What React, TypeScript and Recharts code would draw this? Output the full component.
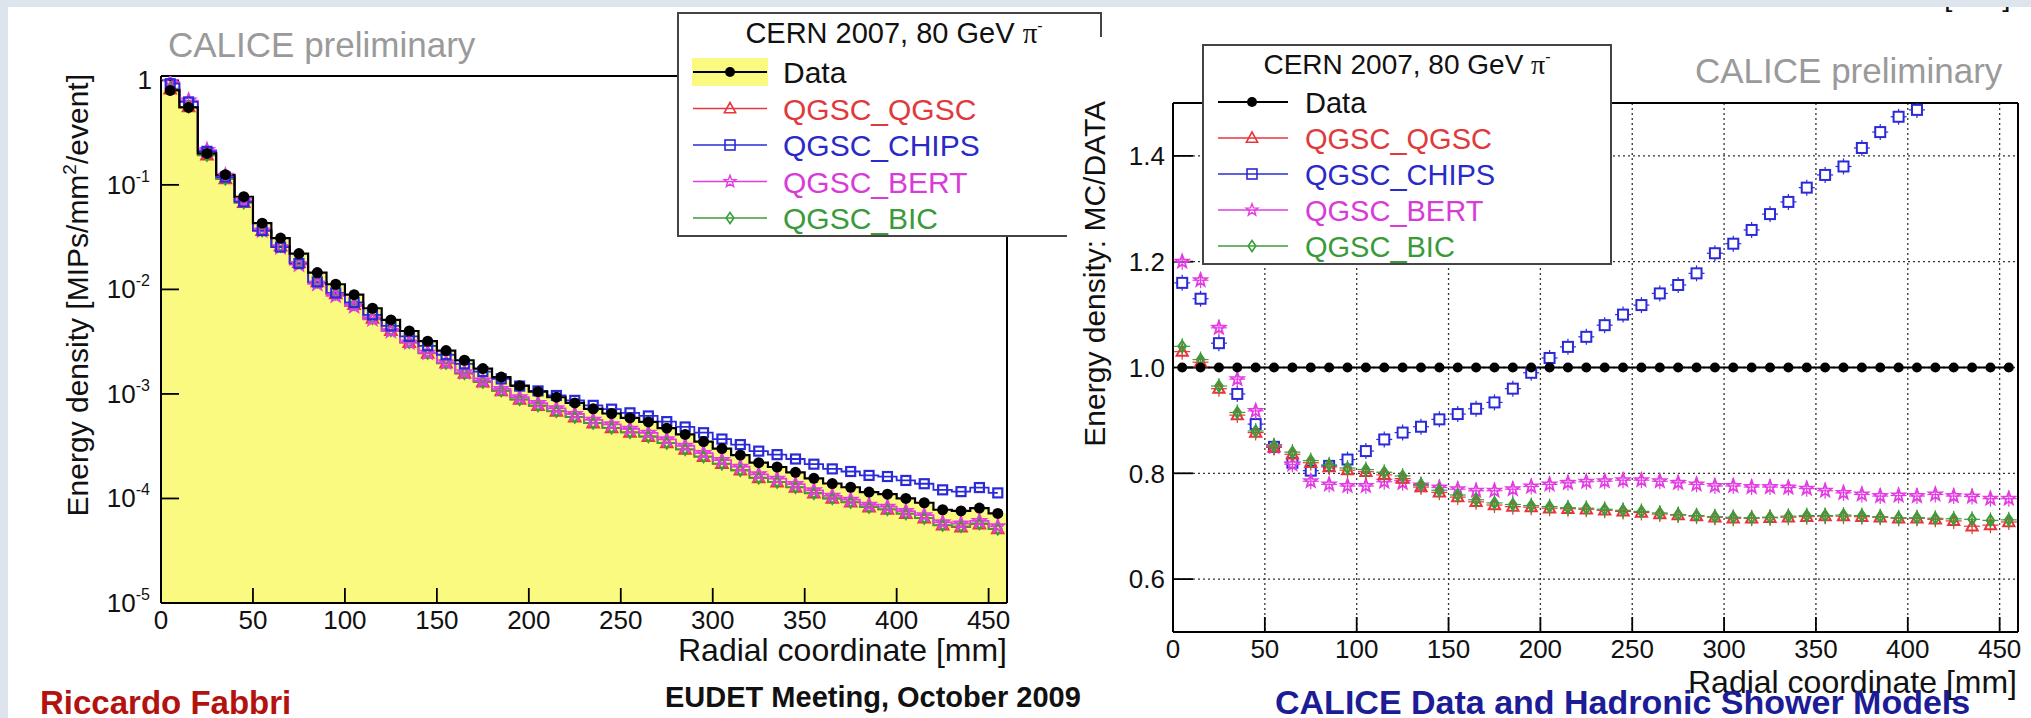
import React from 'react';
import { ComposedChart, Area, Line, Scatter, XAxis, YAxis, CartesianGrid, Legend } from 'recharts';

const FONT = '"Liberation Sans", Arial, Helvetica, sans-serif';

// ---------- data ----------
const binCenters = [5, 15, 25, 35, 45, 55, 65, 75, 85, 95, 105, 115, 125, 135, 145, 155, 165, 175, 185, 195, 205, 215, 225, 235, 245, 255, 265, 275, 285, 295, 305, 315, 325, 335, 345, 355, 365, 375, 385, 395, 405, 415, 425, 435, 445, 455];

// Energy density of data [MIPs/mm^2/event]
const dataDensity = [
  0.80, 0.55, 0.20, 0.125, 0.077, 0.043, 0.031, 0.022, 0.0145, 0.0112,
  0.0089, 0.0066, 0.0051, 0.0040, 0.0032, 0.0026, 0.0021, 0.00175, 0.00145, 0.0012,
  0.00105, 0.00093, 0.00082, 0.00072, 0.00065, 0.00059, 0.00054, 0.00047, 0.00041, 0.00035,
  0.00030, 0.00026, 0.00022, 0.00020, 0.000178, 0.000156, 0.000139, 0.000128, 0.000115, 0.000110,
  0.000100, 0.000091, 0.000078, 0.000076, 0.000081, 0.000072,
];

// MC / DATA ratios
const ratioData = [
  1, 1, 1, 1, 1, 1, 1, 1, 1, 1, 1, 1, 1, 1, 1, 1, 1, 1, 1, 1, 1, 1, 1,
  1, 1, 1, 1, 1, 1, 1, 1, 1, 1, 1, 1, 1, 1, 1, 1, 1, 1, 1, 1, 1, 1, 1,
];
const ratioQGSC = [
  1.03, 1.01, 0.96, 0.91, 0.877, 0.849, 0.836, 0.82, 0.812, 0.806,
  0.803, 0.797, 0.79, 0.774, 0.764, 0.755, 0.746, 0.74, 0.737, 0.736,
  0.734, 0.733, 0.732, 0.73, 0.728, 0.726, 0.723, 0.721, 0.719, 0.717,
  0.715, 0.715, 0.716, 0.717, 0.718, 0.719, 0.719, 0.718, 0.717, 0.715,
  0.715, 0.713, 0.71, 0.70, 0.702, 0.708,
];
const ratioCHIPS = [
  1.16, 1.13, 1.046, 0.95, 0.893, 0.85, 0.82, 0.805, 0.814, 0.826,
  0.842, 0.864, 0.877, 0.888, 0.902, 0.912, 0.922, 0.934, 0.96, 0.99,
  1.018, 1.039, 1.058, 1.08, 1.10, 1.118, 1.14, 1.156, 1.178, 1.216,
  1.234, 1.26, 1.29, 1.313, 1.34, 1.364, 1.38, 1.415, 1.445, 1.474,
  1.487, 1.52, 1.55, 1.53, 1.57, 1.57,
];
const ratioBERT = [
  1.20, 1.165, 1.075, 0.978, 0.918, 0.85, 0.817, 0.785, 0.779, 0.776,
  0.776, 0.784, 0.782, 0.777, 0.773, 0.77, 0.767, 0.767, 0.77, 0.775,
  0.779, 0.782, 0.784, 0.785, 0.787, 0.787, 0.785, 0.782, 0.779, 0.776,
  0.776, 0.774, 0.774, 0.773, 0.771, 0.767, 0.763, 0.76, 0.757, 0.758,
  0.757, 0.76, 0.757, 0.756, 0.752, 0.752,
];
const ratioBIC = [
  1.04, 1.015, 0.965, 0.915, 0.88, 0.852, 0.84, 0.824, 0.816, 0.81,
  0.807, 0.802, 0.795, 0.779, 0.768, 0.759, 0.75, 0.744, 0.741, 0.739,
  0.737, 0.735, 0.734, 0.732, 0.73, 0.728, 0.725, 0.722, 0.72, 0.718,
  0.717, 0.716, 0.717, 0.719, 0.72, 0.72, 0.721, 0.72, 0.718, 0.716,
  0.716, 0.715, 0.714, 0.713, 0.711, 0.712,
];

// ---------- ticks ----------
const xMajorTicks = [0, 50, 100, 150, 200, 250, 300, 350, 400, 450];
const xMinorTicks = [0, 10, 20, 30, 40, 50, 60, 70, 80, 90, 100, 110, 120, 130, 140, 150, 160, 170, 180, 190, 200, 210, 220, 230, 240, 250, 260, 270, 280, 290, 300, 310, 320, 330, 340, 350, 360, 370, 380, 390, 400, 410, 420, 430, 440, 450, 460];
const logMajorTicks = [1e-5, 1e-4, 1e-3, 1e-2, 1e-1, 1];
const logMinorMultipliers = [2, 3, 4, 5, 6, 7, 8, 9];
const logMinorTicks = [1e-5, 1e-4, 1e-3, 1e-2, 1e-1].flatMap((d) => logMinorMultipliers.map((m) => m * d));
const ratioMajorTicks = [0.6, 0.8, 1.0, 1.2, 1.4];
const ratioMidTicks = [0.5, 0.6, 0.7, 0.8, 0.9, 1.0, 1.1, 1.2, 1.3, 1.4, 1.5];
const ratioMinorTicks = [0.5, 0.55, 0.6, 0.65, 0.7, 0.75, 0.8, 0.85, 0.9, 0.95, 1.0, 1.05, 1.1, 1.15, 1.2, 1.25, 1.3, 1.35, 1.4, 1.45, 1.5];

type Kind = 'circle' | 'triangle' | 'square' | 'star' | 'diamond';
const SERIES: { key: string; name: string; color: string; text: string; marker: Kind }[] = [
  { key: 'data', name: 'Data', color: '#000000', text: '#111111', marker: 'circle' },
  { key: 'qgsc', name: 'QGSC_QGSC', color: '#e8343a', text: '#e03a3c', marker: 'triangle' },
  { key: 'chips', name: 'QGSC_CHIPS', color: '#2a2ad8', text: '#2a2ac8', marker: 'square' },
  { key: 'bert', name: 'QGSC_BERT', color: '#e23ce2', text: '#d83cd8', marker: 'star' },
  { key: 'bic', name: 'QGSC_BIC', color: '#3a9e3a', text: '#3a9a3a', marker: 'diamond' },
];

const leftRows = [
  { x: 0, fill: dataDensity[0] },
  ...binCenters.map((x, i) => ({
    x,
    fill: dataDensity[i],
    data: dataDensity[i],
    qgsc: dataDensity[i] * ratioQGSC[i],
    chips: dataDensity[i] * ratioCHIPS[i],
    bert: dataDensity[i] * ratioBERT[i],
    bic: dataDensity[i] * ratioBIC[i],
  })),
  { x: 460, fill: dataDensity[dataDensity.length - 1] },
];

const rightRows = binCenters.map((x, i) => ({
  x,
  data: ratioData[i],
  qgsc: ratioQGSC[i],
  chips: ratioCHIPS[i],
  bert: ratioBERT[i],
  bic: ratioBIC[i],
}));

// ---------- markers ----------
function Marker({ kind, cx, cy, color, size, sw = 2 }: { kind: Kind; cx: number; cy: number; color: string; size: number; sw?: number }) {
  const s = size;
  if (kind === 'circle') return <circle cx={cx} cy={cy} r={s / 2} fill={color} />;
  if (kind === 'triangle') {
    const pts = `${cx},${cy - s * 0.6} ${cx - s * 0.56},${cy + s * 0.42} ${cx + s * 0.56},${cy + s * 0.42}`;
    return <polygon points={pts} fill="none" stroke={color} strokeWidth={sw} />;
  }
  if (kind === 'square')
    return <rect x={cx - s / 2} y={cy - s / 2} width={s} height={s} fill="none" stroke={color} strokeWidth={sw} />;
  if (kind === 'diamond') {
    const pts = `${cx},${cy - s * 0.55} ${cx + s * 0.38},${cy} ${cx},${cy + s * 0.55} ${cx - s * 0.38},${cy}`;
    return <polygon points={pts} fill="none" stroke={color} strokeWidth={sw} />;
  }
  const pts: string[] = [];
  for (let k = 0; k < 10; k++) {
    const r = k % 2 === 0 ? s * 0.62 : s * 0.26;
    const a = -Math.PI / 2 + (k * Math.PI) / 5;
    pts.push(`${cx + r * Math.cos(a)},${cy + r * Math.sin(a)}`);
  }
  return <polygon points={pts.join(' ')} fill="none" stroke={color} strokeWidth={sw * 0.9} />;
}

const dotRenderer = (kind: Kind, color: string, size: number) => (p: any) => {
  const key = `${kind}-${p.index}`;
  if (p.cx == null || p.cy == null || !isFinite(p.cx) || !isFinite(p.cy)) return <g key={key} />;
  return (
    <g key={key}>
      <Marker kind={kind} cx={p.cx} cy={p.cy} color={color} size={size} sw={2.2} />
    </g>
  );
};

const shapeRenderer = (kind: Kind, color: string, size: number) => (p: any) => {
  if (p.cx == null || p.cy == null) return <g />;
  return (
    <g>
      <line x1={p.cx - 8} x2={p.cx + 8} y1={p.cy} y2={p.cy} stroke={color} strokeWidth={1.2} />
      <line x1={p.cx} x2={p.cx} y1={p.cy - 8} y2={p.cy + 8} stroke={color} strokeWidth={1.2} />
      <rect x={p.cx - size / 2} y={p.cy - size / 2} width={size} height={size} fill="#fff" opacity={kind === 'square' ? 1 : 0} />
      <Marker kind={kind} cx={p.cx} cy={p.cy} color={color} size={size} sw={2} />
    </g>
  );
};

// ---------- tick labels ----------
const LogTick = (props: any) => {
  const { x, y, payload } = props;
  const e = Math.round(Math.log10(payload.value));
  if (e === 0)
    return (
      <text x={x} y={y + 9} textAnchor="end" fontSize={26} fontFamily={FONT} fill="#111">
        1
      </text>
    );
  return (
    <text x={x - 2} y={y + 9} textAnchor="end" fontSize={26} fontFamily={FONT} fill="#111">
      10
      <tspan dy={-12} fontSize={16}>
        {e}
      </tspan>
    </text>
  );
};

// ---------- legend ----------
function LegendBox(props: {
  w: number; h: number; titleX: number; titleY: number; row0: number; rowStep: number;
  lineX1: number; lineX2: number; markX: number; textX: number; fontSize: number; band: boolean;
}) {
  const { w, h, titleX, titleY, row0, rowStep, lineX1, lineX2, markX, textX, fontSize, band } = props;
  return (
    <svg width={w} height={h} style={{ display: 'block' }}>
      <rect x={1} y={1} width={w - 2} height={h - 2} fill="#fff" stroke="#444" strokeWidth={2} />
      <text x={titleX} y={titleY} textAnchor="middle" fontSize={fontSize - 1} fontFamily={FONT} fill="#111">
        CERN 2007, 80 GeV{' '}
        <tspan fontFamily='"Liberation Serif", "DejaVu Serif", serif'>π</tspan>
        <tspan dy={-12} fontSize={16}>-</tspan>
      </text>
      {SERIES.map((s, i) => {
        const cy = row0 + i * rowStep;
        return (
          <g key={s.key}>
            {band && i === 0 && <rect x={lineX1 - 1} y={cy - 14} width={lineX2 - lineX1 + 2} height={28} fill="#fafa80" />}
            <line x1={lineX1} x2={lineX2} y1={cy} y2={cy} stroke={s.color} strokeWidth={i === 0 ? 2 : 1.5} />
            <Marker kind={s.marker} cx={markX} cy={cy} color={s.color} size={10} sw={1.6} />
            <text x={textX} y={cy + 11} fontSize={fontSize} fontFamily={FONT} fill={s.text}>
              {s.name}
            </text>
          </g>
        );
      })}
    </svg>
  );
}

const axisLine = { stroke: '#000', strokeWidth: 2 };
const tickLineStyle = { stroke: '#000', strokeWidth: 1.8 };
const tickFont = { fontSize: 26, fill: '#111', fontFamily: FONT };

// Axes are 1px thick boxes (Recharts skips 0-size axes); main axes are declared first so they sit on the frame.
function LeftChart() {
  return (
    <ComposedChart width={1110} height={718} data={leftRows} margin={{ top: 74, right: 101, bottom: 113, left: 159 }}>
      <XAxis xAxisId="xb" dataKey="x" type="number" domain={[0, 460]} allowDataOverflow ticks={xMajorTicks} interval={0}
        tickSize={-15} tickMargin={23} tick={tickFont} axisLine={axisLine} tickLine={tickLineStyle} height={1} stroke="#000" />
      <XAxis xAxisId="xbm" dataKey="x" type="number" domain={[0, 460]} allowDataOverflow ticks={xMinorTicks} interval={0}
        tickSize={-8} tick={false} axisLine={false} tickLine={tickLineStyle} height={1} stroke="#000" />
      <XAxis xAxisId="xt" orientation="top" dataKey="x" type="number" domain={[0, 460]} allowDataOverflow ticks={xMajorTicks} interval={0}
        tickSize={-15} tick={false} axisLine={axisLine} tickLine={tickLineStyle} height={1} stroke="#000" />
      <XAxis xAxisId="xtm" orientation="top" dataKey="x" type="number" domain={[0, 460]} allowDataOverflow ticks={xMinorTicks} interval={0}
        tickSize={-8} tick={false} axisLine={false} tickLine={tickLineStyle} height={1} stroke="#000" />
      <YAxis yAxisId="yl" type="number" scale="log" domain={[1e-5, 1.1]} allowDataOverflow ticks={logMajorTicks} interval={0}
        tickSize={-18} tickMargin={27} tick={(p: any) => <LogTick {...p} />} axisLine={axisLine} tickLine={tickLineStyle} width={1} stroke="#000" />
      <YAxis yAxisId="ylm" type="number" scale="log" domain={[1e-5, 1.1]} allowDataOverflow ticks={logMinorTicks} interval={0}
        tickSize={-10} tick={false} axisLine={false} tickLine={tickLineStyle} width={1} stroke="#000" />
      <YAxis yAxisId="yr" orientation="right" type="number" scale="log" domain={[1e-5, 1.1]} allowDataOverflow ticks={logMajorTicks} interval={0}
        tickSize={-18} tick={false} axisLine={axisLine} tickLine={tickLineStyle} width={1} stroke="#000" />
      <YAxis yAxisId="yrm" orientation="right" type="number" scale="log" domain={[1e-5, 1.1]} allowDataOverflow ticks={logMinorTicks} interval={0}
        tickSize={-10} tick={false} axisLine={false} tickLine={tickLineStyle} width={1} stroke="#000" />

      <Area xAxisId="xb" yAxisId="yl" dataKey="fill" type="step" baseValue="dataMin" fill="#fafa80" fillOpacity={1}
        stroke="none" isAnimationActive={false} dot={false} activeDot={false} />
      <Line xAxisId="xb" yAxisId="yl" dataKey="qgsc" type="step" stroke={SERIES[1].color} strokeWidth={1.8}
        dot={dotRenderer('triangle', SERIES[1].color, 10)} activeDot={false} isAnimationActive={false} />
      <Line xAxisId="xb" yAxisId="yl" dataKey="bic" type="step" stroke={SERIES[4].color} strokeWidth={1.8}
        dot={dotRenderer('diamond', SERIES[4].color, 10)} activeDot={false} isAnimationActive={false} />
      <Line xAxisId="xb" yAxisId="yl" dataKey="bert" type="step" stroke={SERIES[3].color} strokeWidth={1.8}
        dot={dotRenderer('star', SERIES[3].color, 11)} activeDot={false} isAnimationActive={false} />
      <Line xAxisId="xb" yAxisId="yl" dataKey="chips" type="step" stroke={SERIES[2].color} strokeWidth={1.8}
        dot={dotRenderer('square', SERIES[2].color, 9)} activeDot={false} isAnimationActive={false} />
      <Line xAxisId="xb" yAxisId="yl" dataKey="data" type="step" stroke="#000" strokeWidth={2.2}
        dot={dotRenderer('circle', '#000', 11)} activeDot={false} isAnimationActive={false} />

      <Legend layout="horizontal" verticalAlign="middle" align="center"
        wrapperStyle={{ left: 677, top: 12, width: 425, height: 225 }}
        content={() => (
          <LegendBox w={425} h={225} titleX={217} titleY={31} row0={60} rowStep={36.5}
            lineX1={16} lineX2={90} markX={53} textX={106} fontSize={30} band={true} />
        )} />
    </ComposedChart>
  );
}

function RightChart() {
  return (
    <ComposedChart width={964} height={681} data={rightRows} margin={{ top: 64, right: 10, bottom: 84, left: 103 }}>
      <XAxis xAxisId="xb" dataKey="x" type="number" domain={[0, 460]} allowDataOverflow ticks={xMajorTicks} interval={0}
        tickSize={-15} tickMargin={23} tick={tickFont} axisLine={axisLine} tickLine={tickLineStyle} height={1} stroke="#000" />
      <XAxis xAxisId="xbm" dataKey="x" type="number" domain={[0, 460]} allowDataOverflow ticks={xMinorTicks} interval={0}
        tickSize={-7} tick={false} axisLine={false} tickLine={tickLineStyle} height={1} stroke="#000" />
      <XAxis xAxisId="xt" orientation="top" dataKey="x" type="number" domain={[0, 460]} allowDataOverflow ticks={xMajorTicks} interval={0}
        tickSize={-15} tick={false} axisLine={axisLine} tickLine={tickLineStyle} height={1} stroke="#000" />
      <XAxis xAxisId="xtm" orientation="top" dataKey="x" type="number" domain={[0, 460]} allowDataOverflow ticks={xMinorTicks} interval={0}
        tickSize={-7} tick={false} axisLine={false} tickLine={tickLineStyle} height={1} stroke="#000" />
      <YAxis yAxisId="yl" type="number" domain={[0.5, 1.5]} allowDataOverflow ticks={ratioMajorTicks} interval={0}
        tickSize={-20} tickMargin={28} tick={tickFont} tickFormatter={(v: number) => v.toFixed(1)}
        axisLine={axisLine} tickLine={tickLineStyle} width={1} stroke="#000" />
      <YAxis yAxisId="ylmid" type="number" domain={[0.5, 1.5]} allowDataOverflow ticks={ratioMidTicks} interval={0}
        tickSize={-13} tick={false} axisLine={false} tickLine={tickLineStyle} width={1} stroke="#000" />
      <YAxis yAxisId="ylm" type="number" domain={[0.5, 1.5]} allowDataOverflow ticks={ratioMinorTicks} interval={0}
        tickSize={-8} tick={false} axisLine={false} tickLine={tickLineStyle} width={1} stroke="#000" />
      <YAxis yAxisId="yr" orientation="right" type="number" domain={[0.5, 1.5]} allowDataOverflow ticks={ratioMajorTicks} interval={0}
        tickSize={-20} tick={false} axisLine={axisLine} tickLine={tickLineStyle} width={1} stroke="#000" />
      <YAxis yAxisId="yrmid" orientation="right" type="number" domain={[0.5, 1.5]} allowDataOverflow ticks={ratioMidTicks} interval={0}
        tickSize={-13} tick={false} axisLine={false} tickLine={tickLineStyle} width={1} stroke="#000" />
      <YAxis yAxisId="yrm" orientation="right" type="number" domain={[0.5, 1.5]} allowDataOverflow ticks={ratioMinorTicks} interval={0}
        tickSize={-8} tick={false} axisLine={false} tickLine={tickLineStyle} width={1} stroke="#000" />

      <CartesianGrid xAxisId="xb" yAxisId="yl" stroke="#333" strokeWidth={1.3} strokeDasharray="2 3" />

      <Scatter xAxisId="xb" yAxisId="yl" dataKey="chips" isAnimationActive={false}
        shape={shapeRenderer('square', SERIES[2].color, 10)} />
      <Scatter xAxisId="xb" yAxisId="yl" dataKey="bert" isAnimationActive={false}
        shape={shapeRenderer('star', SERIES[3].color, 11)} />
      <Scatter xAxisId="xb" yAxisId="yl" dataKey="qgsc" isAnimationActive={false}
        shape={shapeRenderer('triangle', SERIES[1].color, 10)} />
      <Scatter xAxisId="xb" yAxisId="yl" dataKey="bic" isAnimationActive={false}
        shape={shapeRenderer('diamond', SERIES[4].color, 10)} />
      <Line xAxisId="xb" yAxisId="yl" dataKey="data" type="linear" stroke="#000" strokeWidth={2}
        dot={dotRenderer('circle', '#000', 10)} activeDot={false} isAnimationActive={false} />

      <Legend layout="horizontal" verticalAlign="middle" align="center"
        wrapperStyle={{ left: 135, top: 7, width: 410, height: 221 }}
        content={() => (
          <LegendBox w={410} h={221} titleX={205} titleY={30} row0={58} rowStep={36}
            lineX1={16} lineX2={86} markX={50} textX={103} fontSize={29} band={false} />
        )} />
    </ComposedChart>
  );
}

export default function App() {
  return (
    <div style={{ position: 'absolute', left: 0, top: 0, width: 2031, height: 718, background: '#fff', overflow: 'hidden', fontFamily: FONT }}>
      <div style={{ position: 'absolute', left: 0, top: 0 }}>
        <LeftChart />
      </div>
      <div style={{ position: 'absolute', left: 1067, top: 37, width: 964, height: 681, background: '#fff' }}>
        <RightChart />
      </div>
      <svg width={2031} height={718} style={{ position: 'absolute', left: 0, top: 0, pointerEvents: 'none' }} fontFamily={FONT}>
        {/* left panel */}
        <text x={168} y={57} fontSize={35} fill="#9a9a9a">CALICE preliminary</text>
        <text x={88} y={74} transform="rotate(-90 88 74)" textAnchor="end" fontSize={30} fill="#111">
          Energy density [MIPs/mm<tspan dy={-12} fontSize={19}>2</tspan><tspan dy={12}>/event]</tspan>
        </text>
        <text x={1007} y={661} textAnchor="end" fontSize={32} fill="#111">Radial coordinate [mm]</text>
        {/* right panel */}
        <text x={1695} y={83} fontSize={35} fill="#9a9a9a">CALICE preliminary</text>
        <text x={1105} y={101} transform="rotate(-90 1105 101)" textAnchor="end" fontSize={30} fill="#111">
          Energy density: MC/DATA
        </text>
        <text x={2017} y={693} textAnchor="end" fontSize={32} fill="#111">Radial coordinate [mm]</text>
        {/* slide footer */}
        <text x={40} y={714} fontSize={33} fontWeight="bold" fill="#b3130f">Riccardo Fabbri</text>
        <text x={665} y={707} fontSize={29} fontWeight="bold" fill="#111">EUDET Meeting, October 2009</text>
        <text x={1275} y={714} fontSize={34} fontWeight="bold" fill="#1c1c96">CALICE Data and Hadronic Shower Models</text>
        <text x={1944} y={6} fontSize={30} fill="#111">[mm]</text>
      </svg>
      <div style={{ position: 'absolute', left: 0, top: 0, width: 2031, height: 7, background: '#dde4ee' }} />
      <div style={{ position: 'absolute', left: 0, top: 0, width: 8, height: 718, background: '#dde4ee' }} />
    </div>
  );
}
